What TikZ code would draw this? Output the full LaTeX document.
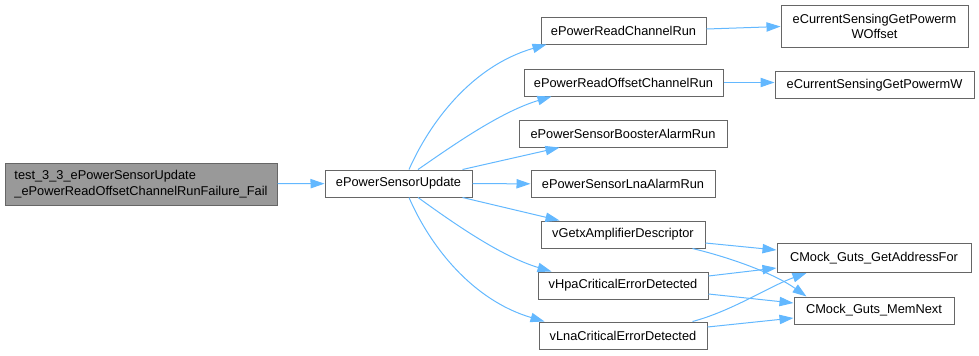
\documentclass[tikz,border=0pt]{standalone}
\usepackage{fontspec}
\setmainfont{Liberation Sans}
\usetikzlibrary{shapes,arrows.meta,calc}

\definecolor{boxline}{HTML}{666666}
\definecolor{rootfill}{HTML}{999999}
\definecolor{callblue}{HTML}{63B8FF}

\begin{document}
\begin{tikzpicture}[x=0.75pt,y=-0.75pt,
  fn/.style={shape=rectangle,draw=boxline,fill=white,align=center,line width=0.75pt,
    inner sep=0pt,minimum height=20.25pt,font=\fontsize{9.6}{11.5}\selectfont},
  call/.style={color=callblue,line width=0.75pt,-{Triangle[length=10.5pt,width=7pt]}}]
\useasboundingbox (0,0) rectangle (979,355);

\node[fn,fill=rootfill,align=left,minimum width=204pt,minimum height=31.5pt] (0) at (141,184) {test\_3\_3\_ePowerSensorUpdate\\\_ePowerReadOffsetChannelRunFailure\_Fail};
\node[fn,minimum width=110.25pt] (1) at (398.5,183.5) {ePowerSensorUpdate};
\node[fn,minimum width=123.75pt] (2) at (623.5,30.5) {ePowerReadChannelRun};
\node[fn,minimum width=149.25pt] (3) at (623.5,82.5) {ePowerReadOffsetChannelRun};
\node[fn,minimum width=156pt] (4) at (623,133.5) {ePowerSensorBoosterAlarmRun};
\node[fn,minimum width=138pt] (5) at (623,184) {ePowerSensorLnaAlarmRun};
\node[fn,minimum width=123pt] (6) at (623,234.5) {vGetxAmplifierDescriptor};
\node[fn,minimum width=127.5pt] (7) at (623,285.5) {vHpaCriticalErrorDetected};
\node[fn,minimum width=126pt] (8) at (623,335.5) {vLnaCriticalErrorDetected};
\node[fn,minimum width=140.25pt,minimum height=32pt] (9) at (874.5,26.5) {eCurrentSensingGetPowerm\\WOffset};
\node[fn,minimum width=149.25pt] (10) at (874.5,85) {eCurrentSensingGetPowermW};
\node[fn,minimum width=145.5pt,minimum height=21.75pt] (11) at (874,258) {CMock\_Guts\_GetAddressFor};
\node[fn,minimum width=120pt] (12) at (874,310.5) {CMock\_Guts\_MemNext};

\draw [call] (0) -- (1);
\draw [call] ($(1.north)+(10.5,0)$) .. controls (430,122) and (472,66) .. ($(2.south west)+(6,0)$);
\draw [call] ($(1.north)+(19.5,0)$) .. controls (452,146) and (500,112) .. ($(3.south west)+(28,0)$);
\draw [call] ($(1.north east)+(-10,0)$) -- ($(4.south west)+(41,0)$);
\draw [call] (1) -- (5);
\draw [call] ($(1.south east)+(-10,0)$) -- ($(6.north west)+(19,0)$);
\draw [call] ($(1.south)+(19.5,0)$) .. controls (452,222) and (500,256) .. ($(7.north west)+(14,0)$);
\draw [call] ($(1.south)+(10.5,0)$) .. controls (430,246) and (472,300) .. ($(8.north west)+(6,0)$);

\draw [call] ($(2.east)+(0,-1.5)$) -- (9.west);
\draw [call] (3.east) -- (3.east -| 10.west);
\draw [call] ($(6.east)+(0,8.5)$) -- ($(11.west)+(0,-8)$);
\draw [call] ($(6.south east)+(-13,0)$) .. controls (732,258) and (775,274) .. ($(12.north west)+(13,0)$);
\draw [call] ($(7.east)+(0,-9.5)$) -- ($(11.south west)+(0,-5)$);
\draw [call] ($(7.east)+(0,8.5)$) -- ($(12.west)+(0,-7.5)$);
\draw [call] ($(8.north east)+(-15,0)$) .. controls (732,311) and (770,286) .. ($(11.south west)+(30,0)$);
\draw [call] ($(8.east)+(0,-8.5)$) -- ($(12.west)+(0,7.5)$);
\end{tikzpicture}
\end{document}
